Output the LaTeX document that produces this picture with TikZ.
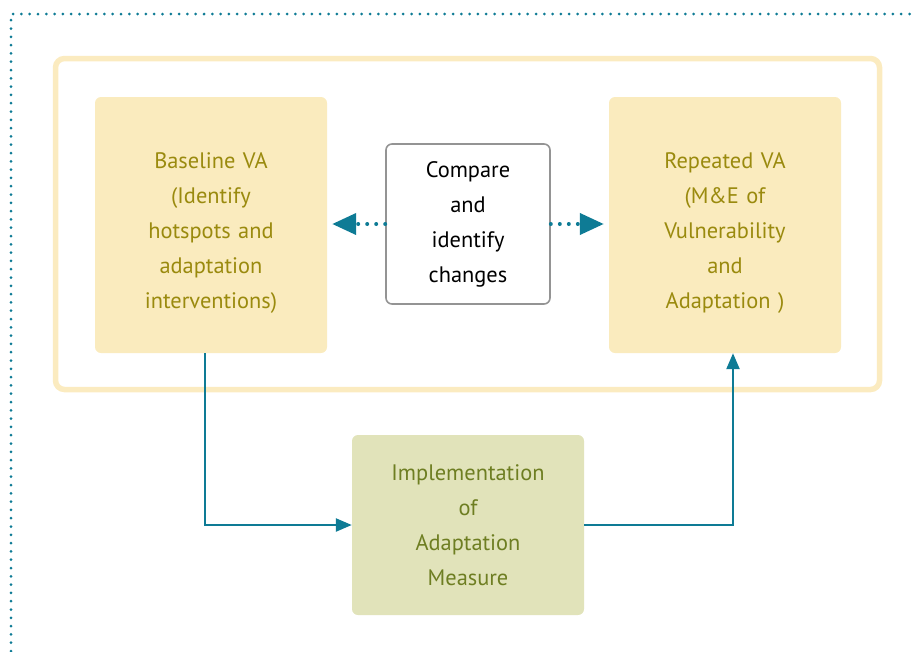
\documentclass[tikz,border=0pt]{standalone}
\usepackage{fontspec}
\setmainfont{PT Sans}
\usepackage{xcolor}
\usetikzlibrary{arrows.meta}

\definecolor{vaFill}{HTML}{FAEBBE}
\definecolor{vaText}{HTML}{9A8A0E}
\definecolor{implFill}{HTML}{E1E3BA}
\definecolor{implText}{HTML}{6E7E22}
\definecolor{teal}{HTML}{0E7B95}
\definecolor{frameCol}{HTML}{FBEBC0}

\tikzset{
	vabox/.style={rectangle, rounded corners=6pt, fill=vaFill, text=vaText, minimum width=232pt, minimum height=256pt, text width=210pt, align=center, inner sep=0pt, font=\fontsize{22.4}{35}\selectfont},
	implbox/.style={vabox, fill=implFill, text=implText, minimum height=180pt},
	cmpbox/.style={rectangle, rounded corners=6pt, draw=black!42, line width=1.6pt, fill=white, minimum width=164pt, minimum height=160pt, text width=150pt, align=center, inner sep=0pt, font=\fontsize{22.4}{35}\selectfont},
	flow/.style={draw=teal, line width=2.4pt, -{Triangle[length=16pt, width=13pt]}},
	cmparrow/.style={draw=teal, line width=4pt, line cap=round, dash pattern=on 0pt off 9pt, -{Triangle[length=24pt, width=21pt]}, shorten >=5pt}
}

\begin{document}
\begin{tikzpicture}[x=1pt, y=-1pt]
	\useasboundingbox (0,0) rectangle (915,651);
	% Paths, nodes, and wires:
	\draw[teal, line width=3pt, line cap=round, dash pattern=on 0pt off 8.3pt] (11, 651) -- (11, 14) -- (915, 14);
	\draw[frameCol, line width=5.5pt, rounded corners=9pt] (55.5, 58.5) rectangle (879.5, 389.5);
	\node[vabox](N1) at (211, 225){\rule{0pt}{32pt}Baseline VA\\(Identify\\hotspots and\\adaptation\\interventions)};
	\node[vabox](N2) at (725, 225){\rule{0pt}{32pt}Repeated VA\\(M\&E of\\Vulnerability\\and\\Adaptation )};
	\node[cmpbox](N3) at (468, 224){Compare\\and\\identify\\changes};
	\node[implbox](N4) at (468, 525){Implementation\\of\\Adaptation\\Measure};
	\coordinate (C1) at ([xshift=-6pt]N1.south |- N4.west);
	\coordinate (C2) at ([xshift=8pt]N2.south |- N4.east);
	\draw[cmparrow] (N3.west) -- (N1.east |- N3.west);
	\draw[cmparrow] (N3.east) -- (N2.west |- N3.east);
	\draw[flow] ([xshift=-6pt]N1.south) -- (C1) -- (N4.west);
	\draw[flow] (N4.east) -- (C2) -- ([xshift=8pt]N2.south);
\end{tikzpicture}
\end{document}
